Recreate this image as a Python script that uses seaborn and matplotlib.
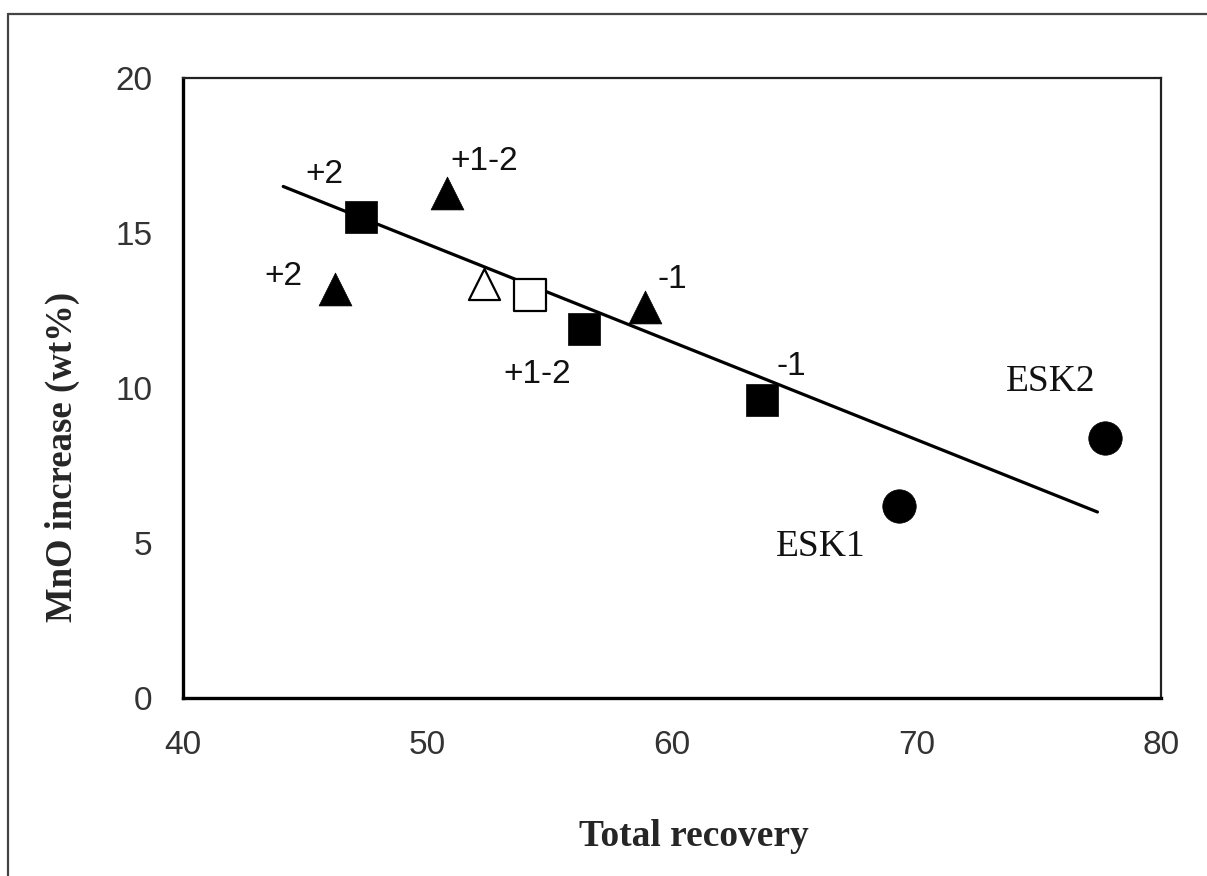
import matplotlib
matplotlib.use("Agg")
import matplotlib.pyplot as plt
from matplotlib.lines import Line2D
import seaborn as sns
import pandas as pd

# Total recovery (%) and MnO increase (wt%) for each sample
recovery = [47.3, 56.4, 63.7, 50.8, 46.2, 58.9, 52.3, 54.2, 69.3, 77.7]
mno_increase = [15.5, 11.9, 9.6, 16.3, 13.2, 12.6, 13.35, 13.0, 6.2, 8.4]
sample_type = ["sq_filled", "sq_filled", "sq_filled",
               "tri_filled", "tri_filled", "tri_filled",
               "tri_open", "sq_open", "circle", "circle"]

# Trend line end points
trend_x = [44.1, 77.4]
trend_y = [16.5, 6.0]

# Point annotations
label_text = ["+2", "+1-2", "+2", "-1", "+1-2", "-1", "ESK2", "ESK1"]
label_x = [45.8, 52.3, 44.1, 60.0, 54.5, 64.9, 75.5, 66.1]
label_y = [16.9, 17.3, 13.6, 13.5, 10.45, 10.7, 10.2, 4.87]
label_serif = [False, False, False, False, False, False, True, True]

x_ticks = [40, 50, 60, 70, 80]
y_ticks = [0, 5, 10, 15, 20]

df = pd.DataFrame({"recovery": recovery, "mno": mno_increase, "kind": sample_type})

sns.set_theme(style="white")
plt.rcParams["font.family"] = ["Liberation Sans", "DejaVu Sans"]

fig = plt.figure(figsize=(12.07, 8.76), dpi=100)
ax = fig.add_axes([0.1516, 0.2032, 0.8103, 0.7078])

# Regression trend
sns.lineplot(x=trend_x, y=trend_y, ax=ax, color="black", linewidth=2.3, zorder=2)

styles = {
    "sq_filled": dict(marker="s", facecolor="black", s=560, lw=0.5),
    "tri_filled": dict(marker="^", facecolor="black", s=560, lw=0.5),
    "tri_open": dict(marker="^", facecolor="white", s=500, lw=1.6),
    "sq_open": dict(marker="s", facecolor="white", s=500, lw=1.6),
    "circle": dict(marker="o", facecolor="black", s=580, lw=0.5),
}
for kind, st in styles.items():
    sub = df[df["kind"] == kind]
    sns.scatterplot(data=sub, x="recovery", y="mno", ax=ax, marker=st["marker"],
                    color=st["facecolor"], edgecolor="black", linewidth=st["lw"],
                    s=st["s"], zorder=3, legend=False)

for t, lx, ly, serif in zip(label_text, label_x, label_y, label_serif):
    if serif:
        ax.text(lx, ly, t, ha="center", va="center", fontsize=27,
                family=["Liberation Serif", "DejaVu Serif"], color="#111111")
    else:
        ax.text(lx, ly, t, ha="center", va="center", fontsize=24, color="#111111")

ax.set_xlim(40, 80)
ax.set_ylim(0, 20)
ax.set_xticks(x_ticks)
ax.set_yticks(y_ticks)
ax.set_xticklabels([str(v) for v in x_ticks])
ax.set_yticklabels([str(v) for v in y_ticks])
ax.tick_params(axis="both", direction="in", length=8, width=1.4, colors="#222222",
               labelsize=24, pad=22, labelcolor="#333333")
ax.tick_params(axis="x", pad=23)

for side in ["left", "bottom"]:
    ax.spines[side].set_linewidth(2.4)
    ax.spines[side].set_color("black")
for side in ["top", "right"]:
    ax.spines[side].set_linewidth(1.6)
    ax.spines[side].set_color("#222222")

ax.set_xlabel("Total recovery", fontsize=27, fontweight="bold",
              family=["Liberation Serif", "DejaVu Serif"])
ax.set_ylabel("MnO increase (wt%)", fontsize=26.5, fontweight="bold",
              family=["Liberation Serif", "DejaVu Serif"])
ax.xaxis.set_label_coords(0.522, -0.195)
ax.yaxis.set_label_coords(-0.105, 0.389)

# Outer frame of the figure (left and top edges)
fig.add_artist(Line2D([8 / 1207, 8 / 1207], [0, 1 - 14 / 876], transform=fig.transFigure,
                      color="#444444", linewidth=1.6))
fig.add_artist(Line2D([8 / 1207, 1], [1 - 14 / 876, 1 - 14 / 876], transform=fig.transFigure,
                      color="#444444", linewidth=1.6))

fig.savefig("out.png", dpi=100, facecolor="white")
